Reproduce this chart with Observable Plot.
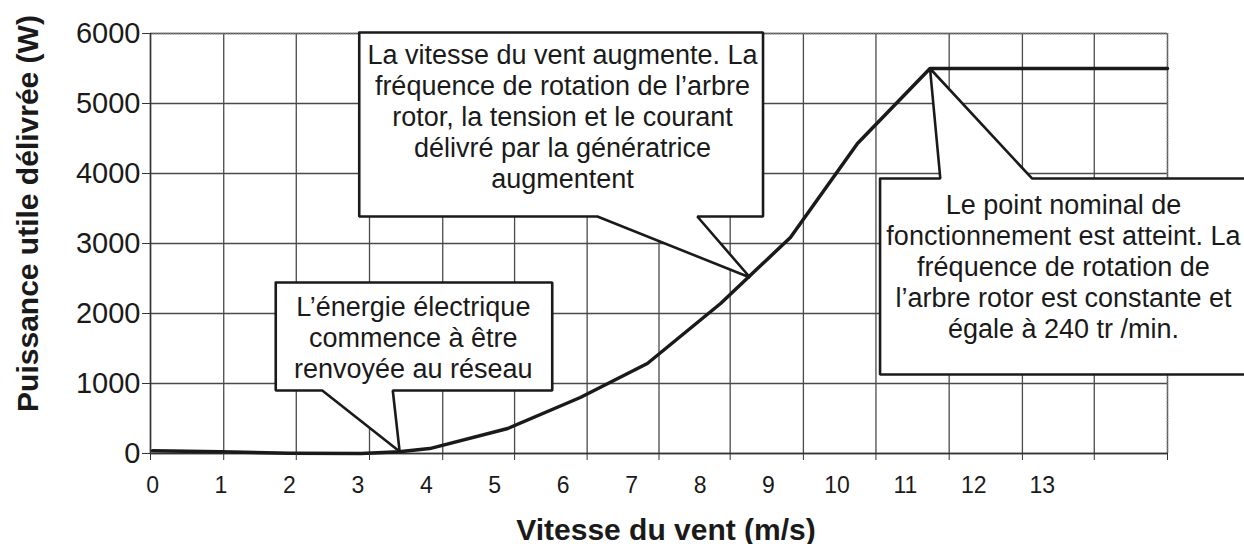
<!DOCTYPE html>
<html>
<head>
<meta charset="utf-8">
<script src="https://cdn.jsdelivr.net/npm/d3@7"></script>
<script src="https://cdn.jsdelivr.net/npm/@observablehq/plot@0.6"></script>
<style>
  html, body { margin: 0; padding: 0; background: #fff; overflow: hidden; }
</style>
</head>
<body>
<div id="chart"></div>
<script>
// ---- data ----
const windSpeed = [0, 1, 2, 3.05, 3.6, 4.05, 5.19, 6.25, 7.23, 8.3, 9.32, 10.3, 11.36, 14.83];
const power     = [40, 25, 5, 0, 25, 70, 357, 800, 1286, 2143, 3086, 4429, 5500, 5500];

const xTickValues = [0, 1, 2, 3, 4, 5, 6, 7, 8, 9, 10, 11, 12, 13];
const yTickValues = [0, 1000, 2000, 3000, 4000, 5000, 6000];
// vertical grid lines (do not coincide with the labels in the original)
const gridXValues = [-0.03, 1.04, 2.10, 3.17, 4.24, 5.29, 6.35, 7.40, 8.44, 9.51, 10.57, 11.64, 12.71, 13.76, 14.83];

const xTitle = "Vitesse du vent (m/s)";
const yTitle = "Puissance utile délivrée (W)";

// callouts: box [x1, x2, yTop, yBottom], pointer side, pointer base [xl, xr], tip [x, y]
const calloutText = [
  "L’énergie électrique\ncommence à être\nrenvoyée au réseau",
  "La vitesse du vent augmente. La\nfréquence de rotation de l’arbre\nrotor, la tension et le courant\ndélivré par la génératrice\naugmentent",
  "Le point nominal de\nfonctionnement est atteint. La\nfréquence de rotation de\nl’arbre rotor est constante et\négale à 240 tr /min."
];
const calloutBox   = [[1.80, 5.84, 2443, 900], [3.02, 8.92, 6014, 3386], [10.63, 16.1, 3929, 1129]];
const calloutSide  = ["bottom", "bottom", "top"];
const calloutBase  = [[2.48, 3.51], [6.50, 7.96], [11.51, 12.85]];
const calloutTip   = [[3.61, 29], [8.73, 2514], [11.36, 5500]];
const calloutTextX = [3.81, 5.99, 13.31];
const calloutTextY = [2286, 5876, 3743];

// ---- build tables ----
const curve = windSpeed.map((x, i) => ({x, y: power[i]}));
const polys = [];
calloutBox.forEach(([x1, x2, yt, yb], i) => {
  const [bl, br] = calloutBase[i];
  const [tx, ty] = calloutTip[i];
  const pts = calloutSide[i] === "top"
    ? [[x1, yt], [bl, yt], [tx, ty], [br, yt], [x2, yt], [x2, yb], [x1, yb], [x1, yt]]
    : [[x1, yt], [x2, yt], [x2, yb], [br, yb], [tx, ty], [bl, yb], [x1, yb], [x1, yt]];
  pts.forEach(([x, y]) => polys.push({id: i, x, y}));
});
const labels = calloutText.map((t, i) => ({t, x: calloutTextX[i], y: calloutTextY[i]}));

const INK = "#1a1a1a";
const GRID = "#4a4a4a";

const chart = Plot.plot({
  width: 1244,
  height: 544,
  marginLeft: 150,
  marginRight: 77,
  marginTop: 33,
  marginBottom: 91,
  x: {domain: [-0.03, 14.83]},
  y: {domain: [0, 6000]},
  style: {fontFamily: "'Liberation Sans', Arial, sans-serif", background: "#fff", color: INK, overflow: "visible"},
  marks: [
    Plot.gridY(yTickValues, {stroke: GRID, strokeOpacity: 1, strokeWidth: 1.3}),
    Plot.gridX(gridXValues, {stroke: GRID, strokeOpacity: 1, strokeWidth: 1.3}),
    Plot.ruleY([6000], {stroke: "#777", strokeWidth: 1.5, strokeDasharray: "1.5,1"}),
    Plot.ruleX([14.83], {stroke: "#777", strokeWidth: 1.5, strokeDasharray: "1.5,1"}),
    Plot.ruleX([-0.03], {stroke: "#333", strokeWidth: 1.5}),
    Plot.ruleY([0], {stroke: "#333", strokeWidth: 1.5}),
    Plot.line(curve, {x: "x", y: "y", stroke: INK, strokeWidth: 3.5, strokeLinejoin: "round"}),
    Plot.line(polys, {x: "x", y: "y", z: "id", fill: "#fff", stroke: INK, strokeWidth: 2.6, strokeLinejoin: "miter", clip: false}),
    Plot.text(labels, {x: "x", y: "y", text: "t", lineAnchor: "top", lineHeight: 1.15, fontSize: 27, fill: INK}),
    Plot.axisY(yTickValues, {tickSize: 8, tickPadding: 2, fontSize: 29, tickFormat: d => String(d), label: null, stroke: "#333"}),
    Plot.axisX(gridXValues, {tickSize: 7, tickFormat: () => "", label: null, stroke: "#333"}),
    Plot.axisX(xTickValues, {tickSize: 0, tickPadding: 23, fontSize: 23, label: null}),
    Plot.text([xTitle], {frameAnchor: "bottom", textAnchor: "middle", lineAnchor: "middle", dx: 7, dy: 77, fontSize: 30, fontWeight: "bold", fill: INK}),
    Plot.text([yTitle], {frameAnchor: "left", textAnchor: "middle", lineAnchor: "middle", rotate: -90, dx: -122, dy: -30, fontSize: 30, fontWeight: "bold", fill: INK})
  ]
});
document.getElementById("chart").appendChild(chart);
</script>
</body>
</html>
